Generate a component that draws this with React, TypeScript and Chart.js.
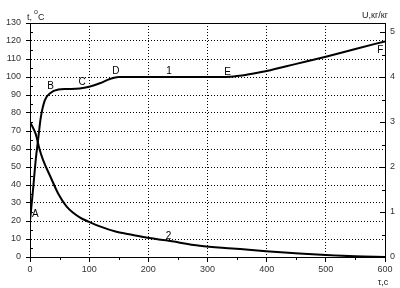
import { useEffect, useRef } from "react";
import { Chart, registerables } from "chart.js";
Chart.register(...registerables);

// Curve 1: temperature t, °C vs time τ, s
const timeT = [0, 5, 10, 14, 18, 25, 34, 48, 62, 84, 100, 118, 135, 150, 200, 250, 300, 330, 350, 375, 400, 450, 500, 550, 600];
const tempT = [20, 37, 55, 66, 77, 87, 91, 93, 93.3, 93.6, 94.6, 96.5, 98.9, 100, 100, 100, 100, 100, 100.5, 101.8, 103.3, 107.3, 111.3, 115.6, 119.8];

// Curve 2: moisture U, kg/kg vs time τ, s
const timeU = [0, 10, 16, 22, 34, 48, 62, 84, 100, 118, 146, 174, 202, 230, 287, 342, 399, 455, 500, 550, 600];
const moistU = [3.0, 2.72, 2.4, 2.16, 1.8, 1.4, 1.12, 0.88, 0.78, 0.68, 0.56, 0.49, 0.42, 0.37, 0.25, 0.19, 0.13, 0.08, 0.045, 0.015, 0];

// Curve annotations (in time / temperature-axis coordinates)
const noteText = ["A", "B", "C", "D", "1", "E", "F", "2"];
const noteX = [9, 34.6, 88, 145, 235, 334, 592, 234];
const noteY = [24, 95, 97, 103, 103.3, 102.8, 115, 11.4];

const FONT = '"Liberation Sans", Arial, sans-serif';
const tickFont = { family: FONT, size: 9 };
const tickColor = "#333";

export default function App() {
  const ref = useRef<HTMLCanvasElement | null>(null);

  useEffect(() => {
    const canvas = ref.current;
    if (!canvas) return;

    const decor = {
      id: "decor",
      afterDraw(chart: any) {
        const ctx = chart.ctx as CanvasRenderingContext2D;
        const a = chart.chartArea;
        const x = chart.scales.x;
        const y = chart.scales.y;
        const y1 = chart.scales.y1;
        ctx.save();
        ctx.strokeStyle = "#000";
        ctx.lineWidth = 1;
        // top frame line
        ctx.beginPath();
        ctx.moveTo(Math.round(a.left), Math.round(a.top) + 0.5);
        ctx.lineTo(Math.round(a.right) + 1, Math.round(a.top) + 0.5);
        ctx.stroke();
        // left minor ticks (inward)
        ctx.beginPath();
        for (let v = 5; v < 130; v += 10) {
          const py = Math.round(y.getPixelForValue(v)) + 0.5;
          ctx.moveTo(a.left, py);
          ctx.lineTo(a.left + 3, py);
        }
        // bottom minor ticks (outward)
        for (let v = 50; v < 600; v += 100) {
          const px = Math.round(x.getPixelForValue(v)) + 0.5;
          ctx.moveTo(px, a.bottom);
          ctx.lineTo(px, a.bottom + 3);
        }
        // right axis ticks (inward)
        for (let v = 0; v <= 5.001; v += 0.5) {
          const py = Math.round(y1.getPixelForValue(v)) + 0.5;
          const len = Math.abs(v - Math.round(v)) < 0.01 ? 5 : 3;
          ctx.moveTo(a.right, py);
          ctx.lineTo(a.right - len, py);
        }
        ctx.stroke();

        // curve annotations
        ctx.fillStyle = "#000";
        ctx.font = `10px ${FONT}`;
        ctx.textAlign = "center";
        ctx.textBaseline = "middle";
        noteText.forEach((t, i) => {
          ctx.fillText(t, x.getPixelForValue(noteX[i]), y.getPixelForValue(noteY[i]));
        });

        // axis titles
        ctx.fillStyle = "#222";
        ctx.font = `9px ${FONT}`;
        ctx.textBaseline = "alphabetic";
        ctx.textAlign = "left";
        ctx.fillText("t,", 27, 20);
        ctx.font = `7px ${FONT}`;
        ctx.fillText("o", 34, 14);
        ctx.font = `9px ${FONT}`;
        ctx.fillText("C", 38, 20);
        ctx.textAlign = "right";
        ctx.fillText("U,кг/кг", 388, 18);
        ctx.textAlign = "center";
        ctx.fillText("τ,c", 383, 285);
        ctx.restore();
      },
    };

    const chart = new Chart(canvas, {
      type: "line",
      data: {
        datasets: [
          {
            label: "1",
            data: timeT.map((t, i) => ({ x: t, y: tempT[i] })),
            yAxisID: "y",
            borderColor: "#000",
            borderWidth: 2,
            pointRadius: 0,
            cubicInterpolationMode: "monotone",
            fill: false,
          },
          {
            label: "2",
            data: timeU.map((t, i) => ({ x: t, y: moistU[i] })),
            yAxisID: "y1",
            borderColor: "#000",
            borderWidth: 2,
            pointRadius: 0,
            cubicInterpolationMode: "monotone",
            fill: false,
          },
        ],
      },
      options: {
        responsive: false,
        animation: false,
        layout: { padding: { top: 23, left: 0, right: 0, bottom: 0 } },
        plugins: { legend: { display: false }, tooltip: { enabled: false } },
        scales: {
          x: {
            type: "linear",
            min: 0,
            max: 600,
            ticks: { stepSize: 100, font: tickFont, color: tickColor, padding: 2, maxRotation: 0, includeBounds: false },
            grid: {
              color: (c: any) => (c.tick && (c.tick.value === 0 || c.tick.value === 600) ? "rgba(0,0,0,0)" : "#000"),
              tickColor: "#000",
              tickLength: 5,
              lineWidth: 1,
              tickBorderDash: [],
            },
            border: { color: "#000", width: 1, dash: [1, 2] },
            afterFit: (s: any) => {
              s.height = 31;
            },
          },
          y: {
            position: "left",
            min: 0,
            max: 130,
            ticks: { stepSize: 10, font: tickFont, color: tickColor, padding: 5 },
            grid: {
              color: (c: any) => (c.tick && (c.tick.value === 0 || c.tick.value === 130) ? "rgba(0,0,0,0)" : "#000"),
              tickColor: "#000",
              tickLength: 4,
              lineWidth: 1,
              tickBorderDash: [],
            },
            border: { color: "#000", width: 1, dash: [1, 2] },
            afterFit: (s: any) => {
              s.width = 30;
            },
          },
          y1: {
            position: "right",
            min: 0,
            max: 5.2,
            ticks: { stepSize: 1, font: tickFont, color: tickColor, padding: 5, includeBounds: false },
            grid: { display: false, drawOnChartArea: false, drawTicks: false },
            border: { display: true, color: "#000", width: 1 },
            afterFit: (s: any) => {
              s.width = 15;
            },
          },
        },
      },
      plugins: [decor],
    } as any);

    return () => chart.destroy();
  }, []);

  return (
    <div style={{ position: "absolute", left: 0, top: 0, width: 400, height: 288, background: "#fff" }}>
      <canvas ref={ref} width={400} height={288} style={{ display: "block" }} />
    </div>
  );
}
